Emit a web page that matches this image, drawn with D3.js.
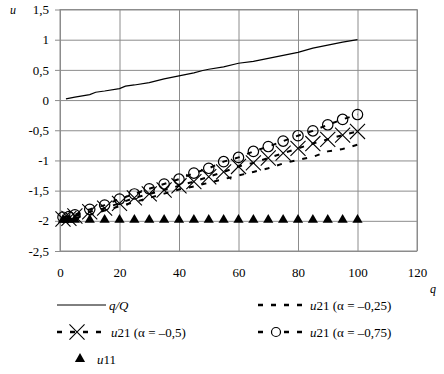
<!DOCTYPE html>
<meta charset="utf-8">
<style>
body { margin: 0; background: #fff; }
svg { font-family: "Liberation Serif", "Times New Roman", serif; }
.grid line, .frame { stroke: #8c8c8c; stroke-width: 1; fill: none; }
.tick text { font-family: "Liberation Serif", "Times New Roman", serif; font-size: 13px; fill: #000; }
.lbl { font-size: 13px; }
</style>
<svg width="444" height="374"></svg>
<script src="https://d3js.org/d3.v7.min.js"></script>
<script>

var xTicks = [0, 20, 40, 60, 80, 100, 120],
    yTicks = [-2.5, -2, -1.5, -1, -0.5, 0, 0.5, 1, 1.5];

// q/Q line
var lineQ = [2, 5, 10, 12, 15, 20, 22, 25, 30, 35, 40, 45, 48, 50, 55, 60, 65, 70, 75, 80, 85, 90, 95, 100],
    lineV = [0.02, 0.05, 0.09, 0.13, 0.15, 0.19, 0.23, 0.25, 0.29, 0.35, 0.40, 0.45, 0.49, 0.51, 0.55, 0.61, 0.64, 0.69, 0.74, 0.79, 0.86, 0.91, 0.96, 1.0];

// marker points
var qPts = [1, 3, 5, 10, 15, 20, 25, 30, 35, 40, 45, 50, 55, 60, 65, 70, 75, 80, 85, 90, 95, 100];
var u21a25 = [-1.98, -1.97, -1.95, -1.90, -1.83, -1.76, -1.69, -1.62, -1.55, -1.48, -1.43, -1.37, -1.31, -1.25, -1.19, -1.13, -1.05, -0.99, -0.94, -0.85, -0.81, -0.74];
var u21a50 = [-1.97, -1.96, -1.92, -1.85, -1.79, -1.71, -1.62, -1.555, -1.49, -1.42, -1.35, -1.27, -1.19, -1.10, -1.04, -0.96, -0.88, -0.80, -0.72, -0.65, -0.58, -0.52];
var u21a75 = [-1.94, -1.93, -1.90, -1.81, -1.74, -1.64, -1.555, -1.47, -1.39, -1.31, -1.21, -1.13, -1.02, -0.95, -0.85, -0.77, -0.68, -0.59, -0.51, -0.41, -0.32, -0.24];
var u11 = [-2, -2, -2, -2, -2, -2, -2, -2, -2, -2, -2, -2, -2, -2, -2, -2, -2, -2, -2, -2, -2, -2];

var svg = d3.select("svg");

var x = d3.scaleLinear().domain([0, 120]).range([60, 417]),
    y = d3.scaleLinear().domain([-2.5, 1.5]).range([251, 9.5]);

var fmt = function(d) { return String(d).replace(".", ","); };

// grid + y ticks
svg.append("g")
    .attr("class", "grid")
    .attr("transform", "translate(60,0)")
    .call(d3.axisRight(y).tickValues(yTicks).tickSize(357).tickFormat(""))
    .call(function(g) { g.select(".domain").remove(); });

svg.append("g")
    .attr("class", "grid")
    .attr("transform", "translate(0,9.5)")
    .call(d3.axisBottom(x).tickValues(xTicks).tickSize(241.5).tickFormat(""))
    .call(function(g) { g.select(".domain").remove(); });

svg.append("g")
    .attr("class", "grid")
    .attr("transform", "translate(60,0)")
    .call(d3.axisLeft(y).tickValues(yTicks).tickSize(5).tickPadding(6).tickFormat(fmt))
    .call(function(g) { g.select(".domain").remove(); });

svg.append("g")
    .attr("class", "grid")
    .attr("transform", "translate(0,251)")
    .call(d3.axisBottom(x).tickValues(xTicks).tickSize(0).tickPadding(17).tickFormat(fmt))
    .call(function(g) { g.select(".domain").remove(); });

svg.append("rect").attr("class", "frame")
    .attr("x", 60).attr("y", 9.5).attr("width", 357).attr("height", 241.5);

svg.append("text").attr("class", "lbl").attr("x", 10).attr("y", 14)
    .style("font-style", "italic").style("font-size", "12px").text("u");
svg.append("text").attr("class", "lbl").attr("x", 430).attr("y", 293)
    .style("font-style", "italic").style("font-size", "12px").text("q");

// series
var line = d3.line().x(function(d) { return x(d[0]); }).y(function(d) { return y(d[1]); });

svg.append("path")
    .attr("d", line(d3.zip(lineQ, lineV)))
    .attr("fill", "none").attr("stroke", "#000").attr("stroke-width", 1.2);

function dashed(vals) {
  svg.append("path")
      .attr("d", line(d3.zip(qPts, vals)))
      .attr("fill", "none").attr("stroke", "#000").attr("stroke-width", 2)
      .attr("stroke-dasharray", "5,8");
}
dashed(u21a25);
dashed(u21a50);
dashed(u21a75);

var cross = d3.symbol().type(d3.symbolX).size(150),
    tri = d3.symbol().type(d3.symbolTriangle).size(45);

svg.append("g").selectAll("path")
    .data(d3.zip(qPts, u21a50))
    .enter().append("path")
      .attr("transform", function(d) { return "translate(" + x(d[0]) + "," + y(d[1]) + ")"; })
      .attr("d", cross).attr("fill", "none").attr("stroke", "#000").attr("stroke-width", 1.1);

svg.append("g").selectAll("circle")
    .data(d3.zip(qPts, u21a75))
    .enter().append("circle")
      .attr("cx", function(d) { return x(d[0]); })
      .attr("cy", function(d) { return y(d[1]); })
      .attr("r", 5.2).attr("fill", "none").attr("stroke", "#000").attr("stroke-width", 1.2);

svg.append("g").selectAll("path")
    .data(d3.zip(qPts, u11))
    .enter().append("path")
      .attr("transform", function(d) { return "translate(" + x(d[0]) + "," + (y(d[1]) - 1) + ")"; })
      .attr("d", tri).attr("fill", "#000");

// legend
var lg = svg.append("g");
function legText(xp, yp, parts) {
  var t = lg.append("text").attr("class", "lbl").attr("x", xp).attr("y", yp + 4.5);
  parts.forEach(function(p) {
    t.append("tspan").style("font-style", p[1] ? "italic" : "normal").text(p[0]);
  });
}
function legLine(x1, x2, yp, dash) {
  lg.append("line").attr("x1", x1).attr("x2", x2).attr("y1", yp).attr("y2", yp)
    .attr("stroke", "#000").attr("stroke-width", dash ? 2.5 : 1)
    .attr("stroke-dasharray", dash ? "5,8" : null);
}

legLine(57, 106, 305, false);
legText(109, 305, [["q/Q", true]]);

legLine(258, 307, 305, true);
legText(310, 305, [["u", true], ["21 (α = –0,25)", false]]);

legLine(57, 106, 332, true);
lg.append("path").attr("transform", "translate(77,332)").attr("d", cross)
  .attr("fill", "none").attr("stroke", "#000").attr("stroke-width", 1.1);
legText(111, 332, [["u", true], ["21 (α = –0,5)", false]]);

legLine(258, 307, 332, true);
lg.append("circle").attr("cx", 276).attr("cy", 332).attr("r", 4.5)
  .attr("fill", "#fff").attr("stroke", "#000").attr("stroke-width", 1.2);
legText(310, 332, [["u", true], ["21 (α = –0,75)", false]]);

lg.append("path").attr("transform", "translate(80,359)").attr("d", tri).attr("fill", "#000");
legText(97, 359, [["u", true], ["11", false]]);

</script>
